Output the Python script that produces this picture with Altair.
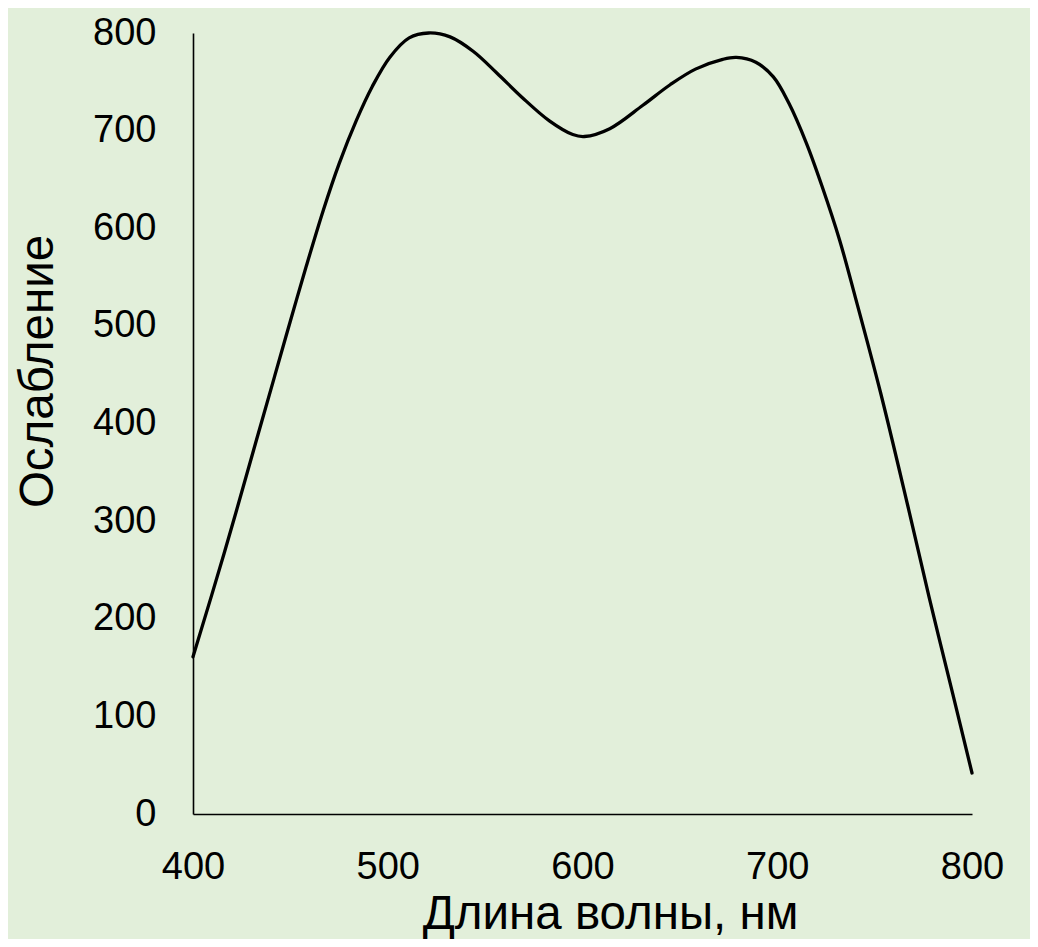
import altair as alt
import pandas as pd

wavelength = [400, 416, 432, 442, 450, 458, 467, 475, 484, 492, 501, 511, 521, 532, 544,
              556, 569, 583, 595, 601, 614, 631, 645, 658, 672, 679, 689, 698, 706, 715,
              723, 732, 740, 753, 767, 778, 790, 800]
attenuation = [161, 267, 379, 449, 505, 560, 619, 666, 711, 745, 775, 795, 800, 796, 781,
               759, 734, 710, 696, 694, 702, 726, 747, 763, 773, 775, 770, 755, 728, 687,
               643, 588, 530, 432, 316, 222, 124, 42]

x_ticks = [400, 500, 600, 700, 800]
y_ticks = [0, 100, 200, 300, 400, 500, 600, 700, 800]

df = pd.DataFrame({"wl": wavelength, "att": attenuation})

FONT = "Liberation Sans"

chart = (
    alt.Chart(df)
    .mark_line(color="black", strokeWidth=3.3, interpolate="catmull-rom", strokeCap="round")
    .encode(
        x=alt.X(
            "wl:Q",
            scale=alt.Scale(domain=[400, 800], nice=False, zero=False),
            axis=alt.Axis(
                values=x_ticks,
                title="Длина волны, нм",
                grid=False,
                ticks=False,
                domainColor="black",
                domainWidth=1.6,
                labelFont=FONT,
                labelFontSize=38,
                labelColor="black",
                labelBaseline="alphabetic",
                labelPadding=64,
                labelFlush=False,
                titleFont=FONT,
                titleFontSize=47.5,
                titleFontWeight="normal",
                titleColor="black",
                titleX=417,
                titleY=114,
                titleBaseline="alphabetic",
                titleAlign="center",
            ),
        ),
        y=alt.Y(
            "att:Q",
            scale=alt.Scale(domain=[0, 800], nice=False),
            axis=alt.Axis(
                values=y_ticks,
                title="Ослабление",
                grid=False,
                ticks=False,
                domainColor="black",
                domainWidth=1.6,
                labelFont=FONT,
                labelFontSize=38,
                labelColor="black",
                labelPadding=37,
                labelFlush=False,
                titleFont=FONT,
                titleFontSize=47.5,
                titleFontWeight="normal",
                titleColor="black",
                titleX=-155,
                titleY=338,
                titleAlign="center",
                titleBaseline="middle",
                titleAngle=-90,
            ),
        ),
    )
    .properties(
        width=779,
        height=781,
        background="#E2EFDA",
        padding={"left": 185, "top": 25, "right": 58, "bottom": 125},
        autosize=alt.AutoSizeParams(type="none"),
    )
    .configure_view(stroke=None)
)

chart.save("out.html", embed_options={"renderer": "svg", "actions": False})
